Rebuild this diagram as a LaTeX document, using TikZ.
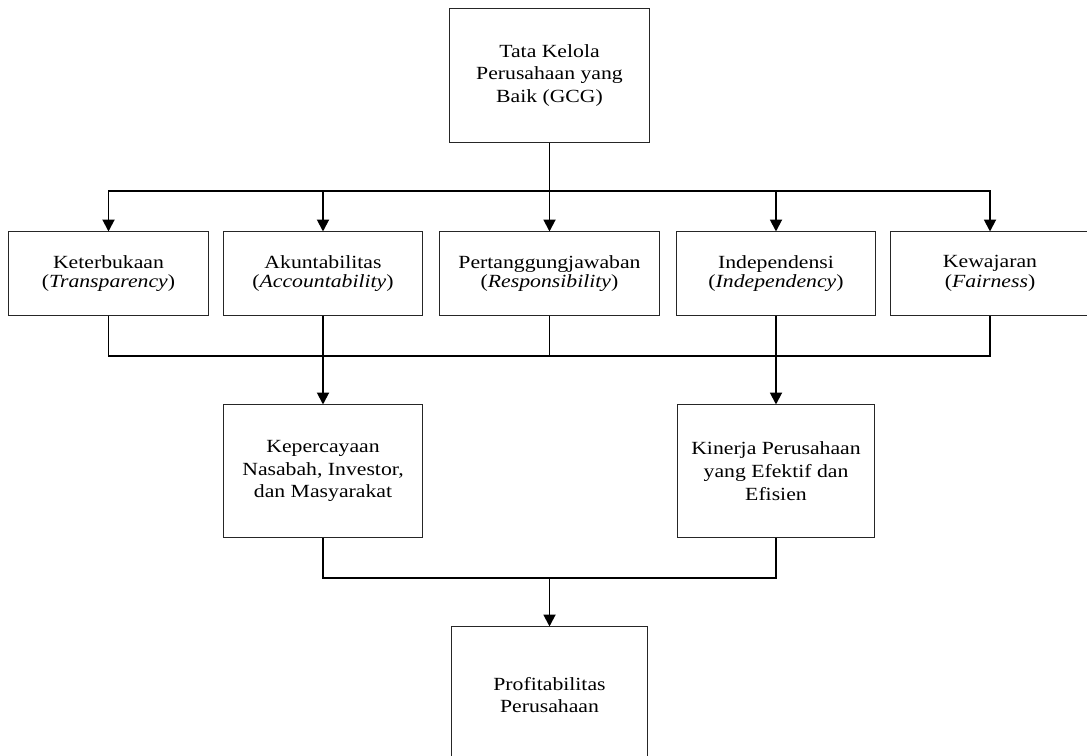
\documentclass[tikz,border=0pt]{standalone}
\usepackage{fontspec}
\setmainfont[FakeStretch=1.17]{Liberation Serif}
\usetikzlibrary{arrows.meta, positioning}

\begin{document}
\begin{tikzpicture}[x=0.025cm, y=-0.025cm,
			kotak/.style={draw=black!85, line width=0.7pt, align=center, inner sep=2pt,
				font=\fontsize{13.2}{16.2}\selectfont},
			prinsip/.style={kotak, minimum width=4.95cm, minimum height=2.075cm,
				font=\fontsize{13.2}{14}\selectfont},
			garis/.style={line width=1.4pt},
			panah/.style={garis, -{Triangle[length=8.5pt, width=8.5pt]}}]

			\useasboundingbox (0,0) rectangle (1087,756);

			% GCG
			\node[kotak, minimum width=4.975cm, minimum height=3.325cm] (gcg) at (549.5,75.5)
				{Tata Kelola\\Perusahaan yang\\Baik (GCG)};

			% lima prinsip
			\node[prinsip, minimum width=4.975cm] (k1) at (108.5,273.5) {Keterbukaan\\(\textit{Transparency})};
			\node[prinsip] (k2) at (323,273.5) {Akuntabilitas\\(\textit{Accountability})};
			\node[prinsip, minimum width=5.475cm] (k3) at (549.5,273.5) {Pertanggungjawaban\\(\textit{Responsibility})};
			\node[prinsip] (k4) at (776,273.5) {Independensi\\(\textit{Independency})};
			\node[prinsip] (k5) at (990,273.5) {Kewajaran\\(\textit{Fairness})};

			% dampak
			\node[kotak, minimum width=4.95cm, minimum height=3.3cm] (trust) at (323,471)
				{Kepercayaan\\Nasabah, Investor,\\dan Masyarakat};
			\node[kotak, minimum width=4.925cm, minimum height=3.3cm] (kinerja) at (776,471)
				{Kinerja Perusahaan\\yang Efektif dan\\Efisien};
			\node[kotak, minimum width=4.9cm, minimum height=3.4cm] (profit) at (549.5,695)
				{Profitabilitas\\Perusahaan};

			\coordinate (atas) at (549.5,191);
			\coordinate (tengah) at (549.5,356);
			\coordinate (bawah) at (549.5,578);

			\draw[garis] (gcg.south) -- (atas);
			\foreach \k in {k1,k2,k3,k4,k5}
				\draw[panah] (atas) -| (\k.north);

			\draw[garis] (k1.south) |- (tengah) -| (k5.south);
			\draw[garis] (k3.south) -- (tengah);
			\draw[panah] (k2.south) -- (trust.north);
			\draw[panah] (k4.south) -- (kinerja.north);

			\draw[garis] (trust.south) |- (bawah) -| (kinerja.south);
			\draw[panah] (bawah) -- (profit.north);
		\end{tikzpicture}
\end{document}
